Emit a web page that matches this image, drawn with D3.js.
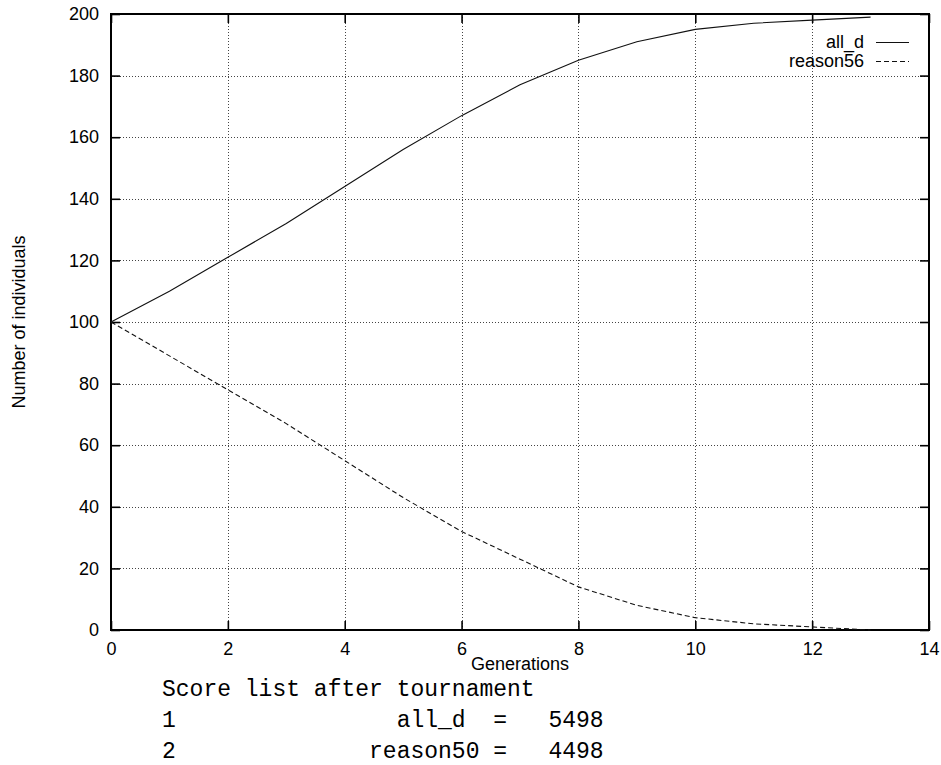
<!DOCTYPE html>
<html>
<head>
<meta charset="utf-8">
<script src="https://cdn.jsdelivr.net/npm/d3@7"></script>
<style>
    html, body { margin: 0; padding: 0; background: #fff; }
    svg { display: block; }
    .tick-label, .axis-label, .legend text { font-family: "Liberation Sans", Arial, sans-serif; font-size: 18px; fill: #000; }
    .score { font-family: "Courier New", Courier, "Nimbus Mono PS", FreeMono, "Liberation Mono", monospace; font-size: 23px; fill: #000; white-space: pre; }
</style>
</head>
<body>
<script>
const WIDTH = 941;
const HEIGHT = 765;
const PLOT = {left: 111, top: 14, right: 929, bottom: 630};
const TICK_SIZE = 9;

// values
const GENERATIONS = [0, 1, 2, 3, 4, 5, 6, 7, 8, 9, 10, 11, 12, 13];
const ALL_D = [100, 110, 121, 132, 144, 156, 167, 177, 185, 191, 195, 197, 198, 199];
const REASON56 = [100, 89, 78, 67, 55, 43, 32, 23, 14, 8, 4, 2, 1, 0];
const SERIES_NAMES = ['all_d', 'reason56'];
const X_TICKS = [0, 2, 4, 6, 8, 10, 12, 14];
const Y_TICKS = [0, 20, 40, 60, 80, 100, 120, 140, 160, 180, 200];
const SCORE_LINES = [
    'Score list after tournament',
    '1                all_d  =   5498',
    '2              reason50 =   4498'
];

const x = d3.scaleLinear().domain([0, 14]).range([PLOT.left, PLOT.right]);
const y = d3.scaleLinear().domain([0, 200]).range([PLOT.bottom, PLOT.top]);

const svg = d3.select('body')
    .append('svg')
    .attr('width', WIDTH)
    .attr('height', HEIGHT);

// dotted grid
const grid = svg.append('g').attr('class', 'grid')
    .attr('stroke', '#444')
    .attr('stroke-width', 1)
    .attr('stroke-dasharray', '1,2');

grid.selectAll('line.gx')
    .data(X_TICKS.filter(t => t > 0 && t < 14))
    .join('line')
    .attr('class', 'gx')
    .attr('x1', d => Math.round(x(d)) + 0.5)
    .attr('x2', d => Math.round(x(d)) + 0.5)
    .attr('y1', PLOT.top)
    .attr('y2', PLOT.bottom);

grid.selectAll('line.gy')
    .data(Y_TICKS.filter(t => t > 0 && t < 200))
    .join('line')
    .attr('class', 'gy')
    .attr('x1', PLOT.left)
    .attr('x2', PLOT.right)
    .attr('y1', d => Math.round(y(d)) + 0.5)
    .attr('y2', d => Math.round(y(d)) + 0.5);

// inward ticks on all four sides, labels only bottom and left
function axis(gen, ticks, transform, labels){
    const g = svg.append('g')
        .attr('transform', transform)
        .call(gen.tickValues(ticks).tickSize(-TICK_SIZE).tickPadding(12).tickSizeOuter(0));

    g.select('.domain').remove();
    g.selectAll('.tick line').attr('stroke', '#000').attr('stroke-width', 1.6);
    g.selectAll('.tick text')
        .attr('class', 'tick-label')
        .attr('font-size', null)
        .attr('font-family', null);

    if(!labels) g.selectAll('.tick text').remove();
    g.attr('font-size', null).attr('font-family', null);
    return g;
}

axis(d3.axisBottom(x), X_TICKS, `translate(0,${PLOT.bottom})`, true);
axis(d3.axisTop(x), X_TICKS, `translate(0,${PLOT.top})`, false);
axis(d3.axisLeft(y), Y_TICKS, `translate(${PLOT.left},0)`, true);
axis(d3.axisRight(y), Y_TICKS, `translate(${PLOT.right},0)`, false);

// border
svg.append('rect')
    .attr('x', PLOT.left)
    .attr('y', PLOT.top)
    .attr('width', PLOT.right - PLOT.left)
    .attr('height', PLOT.bottom - PLOT.top)
    .attr('fill', 'none')
    .attr('stroke', '#000')
    .attr('stroke-width', 2);

// series
const line = d3.line()
    .x((d, i) => x(GENERATIONS[i]))
    .y(d => y(d));

const DASHES = [null, '5,3'];

[ALL_D, REASON56].forEach((values, i) => {
    svg.append('path')
        .datum(values)
        .attr('d', line)
        .attr('fill', 'none')
        .attr('stroke', '#111')
        .attr('stroke-width', 1.1)
        .attr('stroke-dasharray', DASHES[i]);
});

// legend
const legend = svg.append('g').attr('class', 'legend');
const LEGEND_ROWS = [42, 61];

SERIES_NAMES.forEach((name, i) => {
    legend.append('text')
        .attr('x', 864)
        .attr('y', LEGEND_ROWS[i] + 6)
        .attr('text-anchor', 'end')
        .text(name);

    legend.append('line')
        .attr('x1', 876)
        .attr('x2', 909)
        .attr('y1', LEGEND_ROWS[i] + 0.5)
        .attr('y2', LEGEND_ROWS[i] + 0.5)
        .attr('stroke', '#111')
        .attr('stroke-width', 1.1)
        .attr('stroke-dasharray', DASHES[i]);
});

// axis titles
svg.append('text')
    .attr('class', 'axis-label')
    .attr('x', (PLOT.left + PLOT.right) / 2)
    .attr('y', 670)
    .attr('text-anchor', 'middle')
    .text('Generations');

svg.append('text')
    .attr('class', 'axis-label')
    .attr('transform', `translate(25,${(PLOT.top + PLOT.bottom) / 2}) rotate(-90)`)
    .attr('text-anchor', 'middle')
    .text('Number of individuals');

// score list under the chart
svg.selectAll('text.score')
    .data(SCORE_LINES)
    .join('text')
    .attr('class', 'score')
    .attr('x', 162)
    .attr('y', (d, i) => 696 + i * 31)
    .attr('xml:space', 'preserve')
    .text(d => d);
</script>
</body>
</html>
